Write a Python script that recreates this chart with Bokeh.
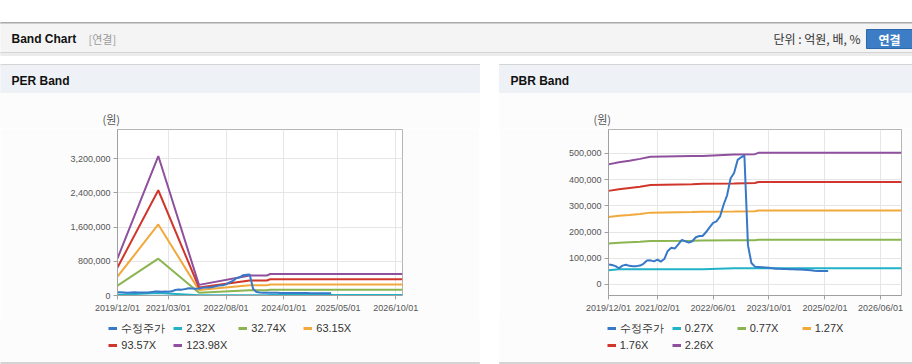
import pandas as pd
from bokeh.plotting import figure
from bokeh.models import (Range1d, FixedTicker, DatetimeTickFormatter, NumeralTickFormatter,
                          Legend, LegendItem)
from bokeh.layouts import column, row
from bokeh.embed import file_html
from bokeh.resources import INLINE
from bokeh.core.properties import value

FONT = "Liberation Sans"
KFONT = "Noto Sans CJK KR"

# ---------------- data ----------------
price_label = "수정주가"
price_start = "2019-12-01"
price_values = [76000, 74000, 70000, 62000, 72000, 75000, 71000, 70000, 70000, 72000,
                79000, 91000, 92000, 88000, 95000, 87000, 97000, 128000, 140000, 137000,
                153000, 170000, 165000, 160000, 165000, 180000, 185000, 185000, 200000, 218000,
                235000, 241000, 260000, 305000, 340000, 405000, 425000, 475000, 485000, 492000,
                150000, 82000, 68000, 67000, 66000, 65000, 64000, 62000, 60000, 60000,
                59000, 59000, 58000, 58000, 57000, 57000, 56000, 55000, 54000, 52000,
                51000, 51000, 51000, 51000]

per_labels = ["2.32X", "32.74X", "63.15X", "93.57X", "123.98X"]
per_dates = ["2019-12-01", "2020-12-01", "2021-12-01", "2023-03-01", "2023-08-01", "2023-09-01", "2026-12-01"]
per_232 = [16000, 61000, 4600, 8700, 8700, 9400, 9400]
per_3274 = [229000, 861000, 65000, 123000, 123000, 133000, 133000]
per_6315 = [442000, 1660000, 126000, 237000, 237000, 256000, 256000]
per_9357 = [655000, 2460000, 187000, 351000, 351000, 379000, 379000]
per_12398 = [868000, 3260000, 248000, 465000, 465000, 502000, 502000]
per_y_ticks = [0, 800000, 1600000, 2400000, 3200000]
per_x_ticks = ["2019-12-01", "2021-03-01", "2022-08-01", "2024-01-01", "2025-05-01", "2026-10-01"]

pbr_labels = ["0.27X", "0.77X", "1.27X", "1.76X", "2.26X"]
pbr_dates = ["2019-12-01", "2020-03-01", "2020-06-01", "2020-09-01", "2020-12-01", "2021-12-01",
             "2022-03-01", "2022-12-01", "2023-06-01", "2023-07-01", "2026-12-01"]
pbr_027 = [54000, 58000, 58000, 58000, 58000, 58000, 58000, 62000, 62000, 62000, 62000]
pbr_077 = [156000, 159000, 161000, 163000, 166000, 167000, 168000, 169000, 169000, 171000, 171000]
pbr_127 = [257000, 262000, 265000, 269000, 274000, 276000, 277000, 278000, 279000, 282000, 282000]
pbr_176 = [357000, 363000, 368000, 373000, 379000, 382000, 384000, 385000, 387000, 391000, 391000]
pbr_226 = [458000, 466000, 472000, 479000, 487000, 490000, 490000, 496000, 497000, 502000, 502000]
pbr_y_ticks = [0, 100000, 200000, 300000, 400000, 500000]
pbr_x_ticks = ["2019-12-01", "2021-02-01", "2022-06-01", "2023-10-01", "2025-02-01", "2026-06-01"]

PRICE_COLOR = "#3778c8"
BAND_COLORS = ["#22b2c8", "#8ab550", "#f2a93b", "#d0362b", "#8f509d"]
PANEL_BG = "#fcfcfc"

X_START = pd.Timestamp("2019-12-01")
X_END = pd.Timestamp("2026-12-01")
price_dates = pd.date_range(price_start, periods=len(price_values), freq="MS")


def ms(d):
    return int(pd.Timestamp(d).value // 10**6)


def deco(w, h, y_top):
    f = figure(width=w, height=h, x_range=Range1d(0, w), y_range=Range1d(y_top + h, y_top),
               output_backend="svg", toolbar_location=None, title=None,
               x_axis_location=None, y_axis_location=None, min_border=0)
    f.grid.visible = False
    f.outline_line_color = None
    f.background_fill_color = "#ffffff"
    f.border_fill_color = "#ffffff"
    return f


W = 912
TOP_H = 128
CH_H = 190
FOOT_H = 364 - TOP_H - CH_H

# ---------------- header + panel strips ----------------
hdr = deco(W, TOP_H, 0)
hdr.quad(left=[0], right=[W], top=[22], bottom=[23.5], color="#a9a9a9")
hdr.quad(left=[0], right=[W], top=[23.5], bottom=[52], color="#f4f4f4")
hdr.quad(left=[0], right=[W], top=[52], bottom=[53], color="#d4d4d4")
hdr.quad(left=[0], right=[W], top=[53], bottom=[55], color="#ececec")
hdr.text(x=[11], y=[38], text=["Band Chart"], text_font=value(FONT), text_font_style="bold",
         text_font_size="12px", text_baseline="middle", text_color="#111111")
hdr.text(x=[88], y=[38], text=["[연결]"], text_font=value(KFONT),
         text_font_size="11px", text_baseline="middle", text_color="#9a9a9a")
hdr.text(x=[860], y=[38], text=["단위 : 억원, 배, %"], text_font=value(KFONT),
         text_font_size="12px", text_baseline="middle", text_align="right", text_color="#333333")
hdr.quad(left=[866], right=[914], top=[29], bottom=[48], fill_color="#3c7dc6", line_color="#2e66aa")
hdr.text(x=[889], y=[38.5], text=["연결"], text_font=value(KFONT), text_font_style="bold",
         text_font_size="12px", text_baseline="middle", text_align="center", text_color="#ffffff")

hdr.quad(left=[0, 499], right=[479, W], top=[64, 64], bottom=[65, 65], color="#d4d4d4")
hdr.quad(left=[0, 499], right=[479, W], top=[65, 65], bottom=[93, 93], color="#eef2f7")
hdr.quad(left=[0, 499], right=[479, W], top=[93, 93], bottom=[TOP_H, TOP_H], color=PANEL_BG)
hdr.text(x=[11, 510], y=[80, 80], text=["PER Band", "PBR Band"], text_font=value(FONT),
         text_font_style="bold", text_font_size="12px", text_baseline="middle",
         text_color="#111111")
hdr.text(x=[102, 593], y=[118, 118], text=["(원)", "(원)"], text_font=value(KFONT),
         text_font_size="11px", text_baseline="middle", text_color="#555555")


# ---------------- charts ----------------
def chart(w, left, right, y0, y1, yticks, xticks, band_dates, band_series):
    p = figure(width=w, height=CH_H, x_axis_type="datetime", output_backend="svg",
               toolbar_location=None, title=None,
               x_range=Range1d(X_START, X_END), y_range=Range1d(y0, y1),
               min_border_left=left, min_border_right=right, min_border_top=1,
               min_border_bottom=CH_H - 1 - 166)
    p.border_fill_color = PANEL_BG
    p.background_fill_color = "#ffffff"
    p.outline_line_color = "#b5b5b5"
    p.grid.grid_line_color = "#e6e6e6"
    p.xaxis.ticker = FixedTicker(ticks=[ms(d) for d in xticks])
    fmt = "%Y/%m/%d"
    p.xaxis.formatter = DatetimeTickFormatter(microseconds=fmt, milliseconds=fmt, seconds=fmt,
                                              minsec=fmt, minutes=fmt, hourmin=fmt, hours=fmt,
                                              days=fmt, months=fmt, years=fmt)
    p.yaxis.ticker = FixedTicker(ticks=yticks)
    p.yaxis.formatter = NumeralTickFormatter(format="0,0")
    for ax in (p.xaxis[0], p.yaxis[0]):
        ax.axis_line_color = "#a0a0a0"
        ax.major_tick_line_color = "#a0a0a0"
        ax.major_tick_out = 4
        ax.major_tick_in = 0
        ax.minor_tick_line_color = None
        ax.major_label_text_font = FONT
        ax.major_label_text_font_size = "9px"
        ax.major_label_text_color = "#555555"
        ax.major_label_standoff = 3

    bd = pd.to_datetime(band_dates)
    for vals, col in zip(band_series, BAND_COLORS):
        p.line(bd, vals, line_color=col, line_width=2)
    p.line(price_dates, price_values, line_color=PRICE_COLOR, line_width=2)
    return p


chart_l = chart(479, 117, 77, 0, 3880000, per_y_ticks, per_x_ticks, per_dates,
                [per_232, per_3274, per_6315, per_9357, per_12398])
chart_r = chart(413, 109, 11, -42000, 591000, pbr_y_ticks, pbr_x_ticks, pbr_dates,
                [pbr_027, pbr_077, pbr_127, pbr_176, pbr_226])

# ---------------- legends (footer) ----------------
foot = deco(W, FOOT_H, 0)
foot.quad(left=[0, 499], right=[479, W], top=[0, 0], bottom=[FOOT_H, FOOT_H], color=PANEL_BG)
foot.quad(left=[0, 499], right=[479, W], top=[FOOT_H - 2, FOOT_H - 2], bottom=[FOOT_H - 1, FOOT_H - 1],
          color="#d4d4d4")

# off-screen swatch lines: only used to draw the legend glyphs
SW_X = [-50, -40]
SW_Y = [-50, -50]


def legend_for(labels, lx):
    r0 = foot.line(x=SW_X, y=SW_Y, line_color=PRICE_COLOR, line_width=3)
    items = [LegendItem(label=price_label, renderers=[r0])]
    for lab, col in zip(labels, BAND_COLORS):
        r = foot.line(x=SW_X, y=SW_Y, line_color=col, line_width=3)
        items.append(LegendItem(label=lab, renderers=[r]))
    leg = Legend(items=items, location=(lx, FOOT_H - 32.5), orientation="horizontal", ncols=4,
                 glyph_width=9, glyph_height=12, label_height=12, label_width=49,
                 label_standoff=4, spacing=3, padding=0, margin=0,
                 label_text_font=FONT, label_text_font_size="11px", label_text_color="#333333",
                 background_fill_alpha=0, border_line_color=None)
    foot.add_layout(leg)


legend_for(per_labels, 108.3)
legend_for(pbr_labels, 606.7)

layout = column(hdr, row(chart_l, chart_r, spacing=20), foot)

open("out.html", "w").write(file_html(layout, INLINE))
